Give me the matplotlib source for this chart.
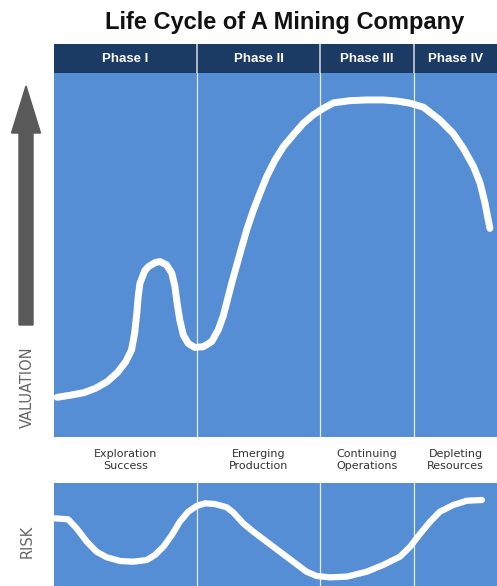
import matplotlib
matplotlib.use("Agg")
import matplotlib.pyplot as plt
from matplotlib.patches import FancyArrow

# данные (время 0..100, оценка/риск 0..100)
phases = ["Phase I", "Phase II", "Phase III", "Phase IV"]
stages = ["Exploration\nSuccess", "Emerging\nProduction", "Continuing\nOperations", "Depleting\nResources"]
bounds = [0, 32.3, 60.0, 81.3, 100]

val_t = [0.7, 3.8, 6.8, 9.4, 12.0, 14.3, 16.2, 17.5, 18.2, 18.7, 19.0, 19.4, 20.5, 21.3,
         22.8, 23.9, 25.4, 26.6, 27.3, 27.8, 28.4, 29.2, 30.3, 31.8, 33.7, 35.6, 37.1,
         38.2, 40.1, 42.0, 43.5, 45.0, 46.5, 48.0, 49.9, 51.8, 54.0, 56.3, 58.5, 60.8,
         63.1, 66.8, 70.6, 74.3, 77.4, 80.4, 83.4, 87.1, 90.1, 92.4, 94.7, 96.2, 97.3, 98.4]
val_v = [10.9, 11.5, 12.2, 13.4, 15.2, 17.7, 20.7, 23.9, 28.5, 34.0, 38.5, 42.2, 45.7, 46.8,
         47.9, 48.2, 47.3, 45.0, 41.3, 36.7, 32.1, 28.0, 25.7, 24.6, 24.8, 26.2, 29.5,
         33.2, 42.2, 50.5, 56.9, 62.3, 67.0, 71.5, 76.1, 79.8, 83.0, 86.2, 88.5, 90.3,
         91.8, 92.4, 92.6, 92.6, 92.3, 91.7, 90.6, 87.1, 83.4, 79.3, 74.3, 69.7, 64.2, 57.3]

risk_t = [0.2, 3.2, 5.1, 7.4, 9.6, 11.9, 14.9, 17.9, 20.9, 22.8, 24.7, 26.6, 28.4, 30.3,
          32.2, 34.1, 36.3, 39.0, 40.5, 42.7, 45.0, 48.0, 51.0, 54.0, 57.0, 59.3, 62.3,
          66.1, 70.6, 74.3, 78.1, 80.4, 82.6, 84.9, 87.1, 90.1, 93.2, 96.6]
risk_r = [65.7, 64.7, 56.0, 43.0, 33.3, 27.9, 24.3, 23.6, 25.2, 30.1, 38.2, 49.5, 62.4, 72.1,
          77.7, 80.3, 79.6, 76.4, 71.2, 60.9, 52.7, 43.0, 33.3, 23.6, 13.9, 9.7, 8.4,
          9.1, 13.9, 20.4, 28.5, 38.2, 50.5, 62.4, 72.1, 78.6, 82.8, 83.5]

W, H = 497, 586
blue = "#558ed5"
navy = "#1b3a64"

fig = plt.figure(figsize=(W / 100, H / 100), dpi=100)

def px_axes(x0, y0, x1, y1):
    # оси по пиксельным координатам (от верхнего левого угла)
    return fig.add_axes([x0 / W, 1 - y1 / H, (x1 - x0) / W, (y1 - y0) / H])

# заголовок
fig.text(285 / W, 1 - 22 / H, "Life Cycle of A Mining Company", ha="center", va="center",
         fontsize=17, fontweight="bold", family="Liberation Sans", color="#111111")

# шапка с фазами
hdr = px_axes(54, 44, 497, 73)
hdr.set_xlim(0, 100)
hdr.set_ylim(0, 1)
hdr.axis("off")
hdr.add_patch(plt.Rectangle((0, 0), 100, 1, color=navy, zorder=0))
for i, p in enumerate(phases):
    hdr.text((bounds[i] + bounds[i + 1]) / 2, 0.5, p, ha="center", va="center", color="white",
             fontsize=9.5, fontweight="bold", family="Liberation Sans")
for b in bounds[1:-1]:
    hdr.axvline(b, color="#c8d0dc", lw=1.2)

# основная панель
ax = px_axes(54, 73, 497, 437)
ax.set_xlim(0, 100)
ax.set_ylim(0, 100)
ax.set_facecolor(blue)
for b in bounds[1:-1]:
    ax.axvline(b, color="white", lw=0.9, alpha=0.85)
ax.plot(val_t, val_v, color="white", lw=5, solid_capstyle="round", solid_joinstyle="round")
ax.set_xticks([])
ax.set_yticks([])
for s in ax.spines.values():
    s.set_visible(False)

# подписи стадий
lab = px_axes(54, 437, 497, 483)
lab.set_xlim(0, 100)
lab.set_ylim(0, 1)
lab.axis("off")
for i, s in enumerate(stages):
    lab.text((bounds[i] + bounds[i + 1]) / 2, 0.5, s, ha="center", va="center",
             fontsize=8, color="#333333", linespacing=1.2)

# панель риска
rk = px_axes(54, 483, 497, 586)
rk.set_xlim(0, 100)
rk.set_ylim(0, 100)
rk.set_facecolor(blue)
for b in bounds[1:-1]:
    rk.axvline(b, color="white", lw=0.9, alpha=0.85)
rk.plot(risk_t, risk_r, color="white", lw=4.5, solid_capstyle="round", solid_joinstyle="round")
rk.set_xticks([])
rk.set_yticks([])
for s in rk.spines.values():
    s.set_visible(False)

# стрелка и подписи осей
fig.patches.append(FancyArrow(26 / W, 1 - 325 / H, 0, (325 - 86) / H, width=14 / W,
                              head_width=29 / W, head_length=47 / H, length_includes_head=True,
                              transform=fig.transFigure, color="#595959", figure=fig))
fig.text(27 / W, 1 - 387 / H, "VALUATION", rotation=90, ha="center", va="center",
         fontsize=10.5, color="#666666")
fig.text(27 / W, 1 - 541 / H, "RISK", rotation=90, ha="center", va="center",
         fontsize=10.5, color="#666666")

fig.savefig("out.png", dpi=100)
